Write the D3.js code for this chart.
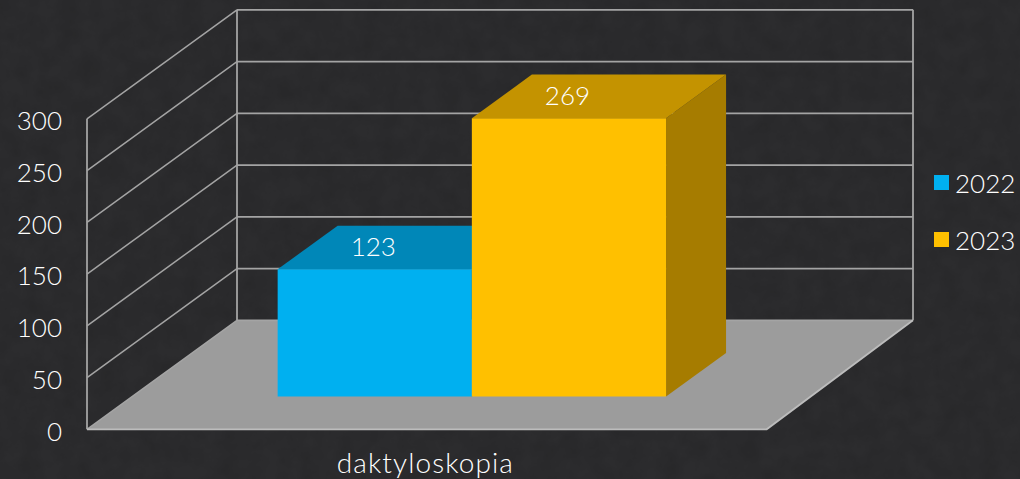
<!DOCTYPE html>
<html>
<head>
<meta charset="utf-8">
<script src="https://cdn.jsdelivr.net/npm/d3@7"></script>
<style>
html,body{margin:0;padding:0;background:#2b2b2d;overflow:hidden}
svg{display:block}
text{font-family:Lato,"Noto Sans",sans-serif;font-weight:300;fill:#ffffff;font-size:26px}
</style>
</head>
<body>
<svg id="chart" width="1020" height="479"></svg>
<script>
const categories = ["daktyloskopia"];
const seriesNames = ["2022", "2023"];
const values2022 = [123];
const values2023 = [269];
const yTicks = [0, 50, 100, 150, 200, 250, 300];
const seriesColors = {"2022": ["#00B0F0", "#0087B8", "#007099"], "2023": ["#FFC000", "#C49300", "#A67C00"]};
const seriesValues = {"2022": values2022, "2023": values2023};

const W = 1020, H = 479;
const svg = d3.select("#chart");
const defs = svg.append("defs");
const f = defs.append("filter").attr("id", "tex").attr("x", 0).attr("y", 0).attr("width", "100%").attr("height", "100%");
f.append("feTurbulence").attr("type", "fractalNoise").attr("baseFrequency", 0.05).attr("numOctaves", 4).attr("seed", 4);
f.append("feColorMatrix").attr("values", "0 0 0 0 0  0 0 0 0 0  0 0 0 0 0  0.7 0 0 0 -0.22");
svg.append("rect").attr("width", W).attr("height", H).attr("fill", "#2c2c2e");
svg.append("rect").attr("width", W).attr("height", H).attr("filter", "url(#tex)").attr("opacity", 0.22);

// front plane scales + oblique depth
const x0 = d3.scaleBand().domain(categories).range([87, 766.7]);
const x1 = d3.scaleBand().domain(seriesNames).range([x0(categories[0]), x0(categories[0]) + x0.bandwidth()]).paddingInner(0).paddingOuter(0.75);
const y = d3.scaleLinear().domain([0, 300]).range([429.3, 118.8]);
const dx = 150, dy = -109;
const P = (x, v, d) => [x + dx * d, y(v) + dy * d];
const poly = pts => "M" + pts.map(p => p.join(",")).join("L") + "Z";

const xL = x0.range()[0], xR = x0.range()[1];
const backRight = v => [P(xR, v, 1)[0] - 3.7, P(xR, v, 1)[1]];
const gridColor = "#a4a4a4";

// floor
svg.append("path").attr("d", poly([P(xL,0,0), P(xR,0,0), backRight(0), P(xL,0,1)])).attr("fill", "#9c9c9c");

// grid
const grid = svg.append("g").attr("fill", "none").attr("stroke", gridColor);
grid.selectAll(".back").data(yTicks).join("line").attr("class", "back")
  .attr("x1", P(xL,0,1)[0]).attr("x2", backRight(0)[0])
  .attr("y1", d => P(xL,d,1)[1]).attr("y2", d => P(xL,d,1)[1]).attr("stroke-width", 1.8);
grid.selectAll(".side").data(yTicks).join("line").attr("class", "side")
  .attr("x1", P(xL,0,0)[0]).attr("x2", P(xL,0,1)[0])
  .attr("y1", d => P(xL,d,0)[1]).attr("y2", d => P(xL,d,1)[1]).attr("stroke-width", 1.5);
[P(xL,0,0).concat(P(xL,300,0)), P(xL,0,1).concat(P(xL,300,1)), backRight(0).concat(backRight(300))].forEach(c => {
  grid.append("line").attr("x1", c[0]).attr("y1", c[1]).attr("x2", c[2]).attr("y2", c[3]).attr("stroke-width", 1.8);
});
grid.append("path").attr("d", "M" + [P(xL,0,0), P(xR,0,0), backRight(0)].map(p => p.join(",")).join("L"))
  .attr("stroke", "#bcbcbc").attr("stroke-width", 1.8);

// bars (3D boxes)
const d1 = 0.3, d2 = 0.7;
const bars = svg.append("g");
seriesNames.forEach(s => {
  categories.forEach((c, i) => {
    const v = seriesValues[s][i];
    const a = x1(s), b = a + x1.bandwidth();
    const col = seriesColors[s];
    const g = bars.append("g");
    g.append("path").attr("d", poly([P(b,0,d1), P(b,0,d2), P(b,v,d2), P(b,v,d1)])).attr("fill", col[2]);
    g.append("path").attr("d", poly([P(a,v,d1), P(b,v,d1), P(b,v,d2), P(a,v,d2)])).attr("fill", col[1]);
    g.append("path").attr("d", poly([P(a,0,d1), P(b,0,d1), P(b,v,d1), P(a,v,d1)])).attr("fill", col[0]);
    const t = P((a + b) / 2, v, (d1 + d2) / 2);
    const fc = P((a + b) / 2, v, d1);
    g.append("text").attr("class", "val").attr("x", fc[0] - 1.5).attr("y", t[1] - 1)
      .attr("text-anchor", "middle").attr("dominant-baseline", "central").text(v);
  });
});

// y axis labels
const axis = svg.append("g").attr("transform", `translate(87,2.5)`)
  .call(d3.axisLeft(y).tickValues(yTicks).tickSize(0).tickPadding(25));
axis.select(".domain").remove();
axis.selectAll("text").attr("style", "font-family:Lato,'Noto Sans',sans-serif;font-size:26px;font-weight:300;fill:#ffffff");

// x axis label
svg.selectAll(".cat").data(categories).join("text").attr("class", "cat")
  .attr("x", d => x0(d) + x0.bandwidth() / 2 - 1.5).attr("y", 473).attr("text-anchor", "middle")
  .attr("letter-spacing", 1.1).style("font-size", "28px").text(d => d);

// legend
const legend = svg.selectAll(".leg").data(seriesNames).join("g").attr("class", "leg")
  .attr("transform", (d, i) => `translate(934,${175 + i * 57})`);
legend.append("rect").attr("width", 15).attr("height", 15).attr("fill", d => seriesColors[d][0]);
legend.append("text").attr("x", 21).attr("y", 8).attr("dominant-baseline", "central").text(d => d);
</script>
</body>
</html>
